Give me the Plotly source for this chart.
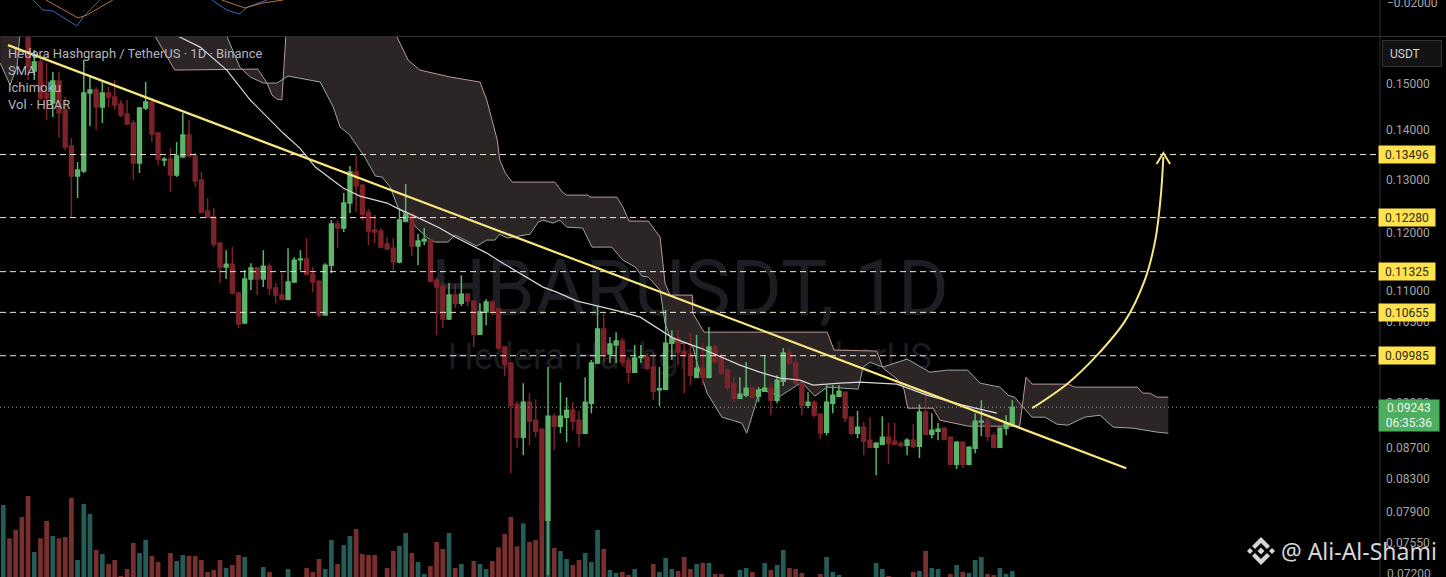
import math
import plotly.graph_objects as go

opens = [.1700,.1750,.1725,.1700,.16508,.15294,.15502,.14799,.14579,.15068,
 .14427,.13669,.13068,.13166,.14799,.14866,.14492,.14799,.14711,.14557,
 .1434,.14148,.13326,.1447,.14601,.13938,.13386,.13406,.13087,.13446,
 .13896,.13466,.1299,.124,.12289,.1182,.11402,.11453,.10967,.10485,
 .11199,.11385,.11199,.11419,.11049,.10934,.10868,.11149,.1153,.1154,
 .11283,.11165,.10611,.11436,.12161,.12089,.1255,.13147,.12892,.12381,
 .12053,.12035,.11802,.11731,.11488,.12215,.12344,.11767,.11855,.11873,
 .11182,.11082,.10548,.10934,.10803,.1095,.10836,.10313,.10659,.1082,
 .10707,.10115,.09875,.09286,.08838,.09314,.09066,.08945,.07805,.09121,
 .08985,.09107,.09203,.09066,.08891,.093,.09875,.10391,.10009,.10145,
 .10206,.09905,.09742,.0996,.09964,.09816,.0949,.09497,.10175,.10252,
 .1004,.10009,.09669,.09801,.09669,.10115,.09964,.09772,.09569,.0937,
 .09412,.09511,.09398,.09469,.09511,.09342,.09612,.10024,.09875,.09583,
 .09272,.09314,.09148,.08905,.093,.09398,.09454,.09107,.08891,.08972,
 .08798,.08707,.08746,.08838,.08785,.08759,.08733,.08798,.0872,.09176,
 .08878,.08918,.08958,.08838,.08488,.08772,.08488,.08694,.0904,.09053,
 .08865,.08707,.08958,.09012]
highs = [.177,.177,.1735,.172,.1662,.15783,.15665,.15478,.15271,.15271,
 .14711,.13834,.13346,.15548,.15203,.14933,.15045,.14933,.1509,.14645,
 .14645,.14212,.14492,.15045,.14689,.13959,.13446,.13628,.13751,.14362,
 .14212,.13526,.13147,.12644,.12456,.11838,.11696,.11749,.10983,.11351,
 .1147,.11402,.11696,.1147,.11132,.113,.11731,.11574,.11696,.11909,
 .11402,.11182,.1147,.12234,.12234,.12739,.13265,.13466,.12912,.12437,
 .12326,.12089,.11927,.11909,.12456,.12912,.12381,.1198,.12089,.11873,
 .11232,.11132,.11132,.11115,.11266,.10967,.10852,.10803,.10868,.10852,
 .10723,.1013,.09875,.09328,.09583,.0944,.09356,.08958,.09816,.09162,
 .09597,.09384,.09314,.0919,.09669,.0992,.10755,.10643,.10267,.10344,
 .10252,.0995,.10145,.10145,.10024,.10024,.09816,.10691,.10375,.10375,
 .10175,.10329,.10298,.10175,.10422,.10145,.10024,.09801,.09669,.09669,
 .0989,.09526,.09526,.09994,.09583,.09698,.101,.101,.0995,.09583,
 .09454,.09342,.09162,.09555,.09555,.09555,.09469,.09121,.0919,.0904,
 .09107,.08772,.09121,.09026,.09026,.08785,.08825,.09012,.09286,.0944,
 .09162,.09026,.08972,.08838,.08785,.08785,.0872,.09162,.09342,.09094,
 .08905,.08972,.09134,.09342]
lows = [.168,.1715,.168,.165,.1509,.1509,.14645,.14212,.14276,.13834,
 .13588,.12289,.12644,.13127,.14085,.14001,.14148,.14492,.14427,.14276,
 .14106,.1299,.13127,.14427,.13751,.13285,.13265,.12758,.13049,.13426,
 .13446,.12854,.12363,.1227,.11749,.11132,.11199,.1095,.10407,.10469,
 .11016,.10934,.11066,.10934,.10803,.10852,.10852,.11132,.11351,.11266,
 .10983,.10579,.10611,.113,.11731,.12016,.12363,.12381,.12234,.11784,
 .1182,.11731,.11696,.11351,.1147,.12197,.11592,.11436,.11784,.11149,
 .10298,.10407,.10532,.10723,.10755,.10755,.10115,.10298,.10453,.10611,
 .1007,.09684,.08375,.08694,.08603,.08733,.08838,.07632,.07189,.08668,
 .08891,.08772,.08931,.08707,.08891,.09162,.0986,.09875,.09875,.09875,
 .09845,.09583,.09728,.09875,.09772,.09342,.09258,.09483,.0992,.09845,
 .0944,.09555,.09655,.09555,.09655,.09875,.09698,.09483,.09314,.0937,
 .09384,.0937,.09314,.09455,.09134,.093,.09541,.09845,.09541,.09134,
 .0923,.09107,.08812,.08865,.09162,.09384,.0904,.08865,.08825,.08603,
 .08694,.08349,.08733,.08488,.08733,.08707,.08603,.08694,.08565,.08865,
 .08825,.08798,.08798,.08488,.08425,.08438,.08475,.08629,.08851,.08785,
 .08694,.08694,.08865,.08985]
closes = [.1750,.1725,.1700,.1665,.15386,.15502,.14689,.14689,.15068,.14362,
 .13649,.13068,.13186,.14799,.14866,.14492,.14799,.14711,.14535,.14319,
 .14127,.13326,.1447,.14601,.13917,.13406,.134,.13087,.13466,.13896,
 .13466,.12971,.12381,.12289,.11802,.11402,.11453,.10967,.10469,.11199,
 .11385,.11199,.11419,.11049,.10934,.10868,.11149,.11522,.1154,.11283,
 .11149,.10611,.11436,.12161,.12089,.1255,.13147,.12873,.12344,.12035,
 .12016,.11749,.11714,.11488,.12234,.12344,.11767,.11855,.1189,.11165,
 .11066,.10548,.10934,.10803,.1095,.10836,.10313,.10659,.1082,.10675,
 .101,.0986,.09272,.08838,.09314,.09053,.08918,.07805,.09121,.08985,
 .09121,.09203,.09053,.08891,.09314,.09875,.10391,.10009,.1016,.10206,
 .0989,.09742,.0995,.09975,.09801,.09469,.09504,.10175,.10252,.1004,
 .10009,.09698,.09801,.09669,.10115,.0989,.09728,.09526,.0937,.09426,
 .09511,.09384,.09483,.09511,.09342,.09626,.10024,.09875,.09583,.09272,
 .09314,.09134,.08891,.09314,.09412,.09469,.09094,.08891,.08972,.08785,
 .08707,.08759,.08838,.08759,.08746,.08733,.08798,.0872,.09176,.08878,
 .08931,.08945,.08812,.08488,.08772,.08488,.08707,.09053,.09053,.08851,
 .08707,.08958,.09026,.09243]
volumes = [216,116,141,180,243,75,116,168,123,116,
 120,237,51,219,189,81,69,39,51,3,
 24,102,72,111,63,45,0,72,48,66,
 63,63,51,15,21,51,27,36,66,60,
 0,0,30,15,0,0,24,0,0,27,
 15,54,24,111,39,96,123,144,69,66,
 66,0,27,78,93,132,72,45,9,33,
 105,84,132,27,39,0,48,39,24,48,
 89,129,180,92,161,105,111,216,169,87,
 78,54,36,51,72,45,141,84,21,12,
 15,6,24,0,0,39,15,57,24,18,
 60,24,39,42,42,9,9,0,0,21,
 27,15,0,42,21,36,81,27,24,12,
 0,0,9,60,15,6,0,0,0,0,
 0,42,24,3,0,0,0,15,18,78,
 27,24,0,9,36,15,12,51,60,9,
 6,27,9,18]

span_a_x = [-0.5,1.1,2.2,2.7,3.5,35,36.1,38.2,39.9,42,44.2,46,50,51.2,53.3,54.4,56,56.5,58.4,60.1,
 61.2,62.5,63.8,65.2,66.8,68.6,69.7,71.8,73,74.6,76.5,78.1,79.4,80.2,81.4,85.1,86.4,87.2,88.8,89.9,
 91,93.6,95.1,98.3,100.1,102.1,103.2,104.2,106.1,106.9,107.7,108.8,110.4,111.4,112.1,113.7,116.1,119.3,120.1,121.4,
 122.2,125.5,129,131.1,133.1,138.1,138.9,140,142.1,146,149.7,152.5,155.8,157.8,161,162.3,163.4,164.7,166.2,168.3,
 170.2,172,174.7,177.2,179.3,182.5,186.4,188.2]
span_a = [.15478,.14978,.15386,.16116,.17529,.17529,.16116,.15386,.15158,.15022,.15022,.15181,.15068,.15045,.14492,.14064,.13896,.13793,.13446,.13068,
 .13049,.12854,.12456,.12326,.12089,.11909,.11838,.11838,.11962,.11873,.11767,.11873,.11873,.1198,.11909,.1198,.12198,.12234,.12179,.12234,
 .12107,.12089,.11749,.11749,.11522,.11402,.1125,.11233,.11016,.10485,.10267,.10175,.10175,.10115,.09875,.0944,.09107,.09026,.08891,.09245,
 .09497,.09398,.09597,.09398,.09526,.09497,.09816,.0989,.09816,.09935,.09742,.09772,.09772,.09583,.09526,.09412,.09384,.09245,.09107,.09107,
 .09012,.08998,.09107,.09134,.08972,.08958,.08905,.08891]
span_b_x = [-0.5,23.7,24.5,27.3,27.7,41.1,42.6,43.4,44.2,45,45.7,46.6,62.5,63.6,65.4,67.3,72.2,77,78.1,79.8,
 80.2,81.1,82.2,89.1,90.3,91,94.5,94.8,99.1,100.1,101.1,104.2,106.1,106.9,107.7,111.3,111.4,113.2,133.1,134.2,
 141.1,142.1,144.4,145.5,146.1,150.2,151.3,155.9,164.2,165.2,166.2,172,173.1,183.2,184.1,185.2,186.4,188.2]
span_b = [.18611,.18611,.16116,.15386,.15317,.1534,.15022,.14755,.14667,.14645,.16116,.18611,.18611,.16092,.15548,.15317,.15158,.15045,.14645,.13793,
 .13386,.13127,.12951,.12951,.12758,.12701,.12701,.12663,.12663,.12475,.12216,.12216,.11927,.11132,.10934,.10934,.10643,.10344,.10344,.1007,
 .10055,.09801,.09641,.09497,.0923,.0923,.09066,.08985,.08985,.09669,.09569,.09569,.09526,.09526,.0944,.0944,.09384,.09384]
sma_x = [26.9,28.2,31.8,36.1,39.9,45.2,47.9,50.4,54.9,57.6,62,63.6,66.8,70.5,73,75.9,78.1,80.7,83.5,87.2,
 89.4,92.7,96.1,100.1,102.9,105.6,108.2,112.6,116.1,119,122.2,125.5,128.7,130.8,135.2,138.4,144.4,149.2,155,160.5]
sma = [.16508,.16116,.15853,.15317,.14645,.13938,.13628,.13245,.12835,.12682,.1255,.12456,.12289,.12089,.11927,.11767,.11644,.1147,.113,.11066,
 .10983,.10836,.10755,.10659,.10579,.10407,.10252,.101,.09964,.09845,.09742,.09655,.09626,.09555,.09583,.09597,.09569,.09412,.09272,.09162]

trend_x = [0.76, 181.4]
trend = [.159, .08437]
arrow_x = [166.2,172,176.7,181.2,184.4,186.1,187,187.4]
arrow = [.0923,.09583,.09994,.10516,.11182,.11873,.12701,.13446]
arrow_head_x = [186.3,187.4,188.5]
arrow_head = [.13305,.13526,.13305]

level_prices = [.13496,.1228,.11325,.10655,.09985]
last_price = .09243
price_ticks = [.15,.14,.13,.12,.11,.105,.1,.093,.087,.083,.079,.0755]
edge_price_tick = .072
osc_tick = -.02

osc_blue_a_x = [4.8,6.4,8,9.6,11.9,12.9,15.6]
osc_blue_a = [-.0194,-.0214,-.0216,-.0228,-.0246,-.0228,-.0194]
osc_orange_a_x = [6.9,9.6,12.1,13.5,17.7]
osc_orange_a = [-.0194,-.0212,-.023,-.0224,-.0194]
osc_blue_b_x = [33.7,36.1,38.1,39.5,42.6]
osc_blue_b = [-.0194,-.0214,-.0222,-.0208,-.0194]
osc_orange_b_x = [35.3,39,41.9,45.2]
osc_orange_b = [-.0194,-.021,-.02,-.0194]

XR = [-0.533, 222.4]
YR = [-1.14461, -0.79331]
idx = list(range(len(closes)))
GREEN, RED = "#5bb56a", "#7d2229"
V_G, V_R = "#245c57", "#7a2f2f"
YEL = "#f8e67e"
TICK_FONT = dict(family="Roboto", size=12, color="#a6a6a6")

fig = go.Figure()
fig.add_trace(go.Scatter(x=[110.9], y=[.10934], mode="text", text=["HBARUSDT, 1D"],
    textfont=dict(family="Roboto", size=78, color="#1c1e23"), yaxis="y", showlegend=False))
fig.add_trace(go.Scatter(x=[110.9], y=[.0992], mode="text", text=["Hedera Hashgraph / TetherUS"],
    textfont=dict(family="Roboto", size=36.5, color="#1a1c20"), yaxis="y", showlegend=False))
fig.add_trace(go.Scatter(x=span_a_x, y=span_a, mode="lines", line=dict(color="#98a89f", width=1), yaxis="y", showlegend=False))
fig.add_trace(go.Scatter(x=span_b_x, y=span_b, mode="lines", line=dict(color="#bc9797", width=1), fill="tonexty",
    fillcolor="#2c2526", yaxis="y", showlegend=False))
fig.add_trace(go.Bar(x=idx, y=volumes, width=0.76, marker=dict(color=[V_G if c >= o else V_R for o, c in zip(opens, closes)], line=dict(width=0)),
    yaxis="y2", showlegend=False))
fig.add_trace(go.Candlestick(x=idx, open=opens, high=highs, low=lows, close=closes, yaxis="y3", showlegend=False,
    increasing=dict(line=dict(color=GREEN, width=1.5), fillcolor=GREEN),
    decreasing=dict(line=dict(color=RED, width=1.5), fillcolor=RED), whiskerwidth=0))
fig.add_trace(go.Scatter(x=sma_x, y=sma, mode="lines", line=dict(color="#d6d6d6", width=1.2), yaxis="y4", showlegend=False))
for p in level_prices:
    fig.add_trace(go.Scatter(x=XR, y=[p, p], mode="lines", line=dict(color="#ece8d6", width=1, dash="6px,4px"), yaxis="y4", showlegend=False))
fig.add_trace(go.Scatter(x=XR, y=[last_price, last_price], mode="lines", line=dict(color="#9a9a9a", width=1, dash="1px,3px"), yaxis="y4", showlegend=False))
fig.add_trace(go.Scatter(x=trend_x, y=trend, mode="lines", line=dict(color=YEL, width=2.2), yaxis="y4", showlegend=False))
fig.add_trace(go.Scatter(x=arrow_x, y=arrow, mode="lines", line=dict(color=YEL, width=2, shape="spline"), yaxis="y4", showlegend=False))
fig.add_trace(go.Scatter(x=arrow_head_x, y=arrow_head, mode="lines", line=dict(color=YEL, width=2), yaxis="y4", showlegend=False))
for xs, ys, col in [(osc_blue_a_x, osc_blue_a, "#3f67b5"), (osc_orange_a_x, osc_orange_a, "#b9713f"),
                    (osc_blue_b_x, osc_blue_b, "#3f67b5"), (osc_orange_b_x, osc_orange_b, "#b9713f")]:
    fig.add_trace(go.Scatter(x=xs, y=ys, mode="lines", line=dict(color=col, width=1), yaxis="y5", showlegend=False))

anns = []
for i, t in enumerate(["Hedera Hashgraph / TetherUS · 1D · Binance", "SMA", "Ichimoku", "Vol · HBAR"]):
    anns.append(dict(text=t, xref="paper", yref="paper", x=6/1380, y=1-(53+17.3*i)/577, xanchor="left", yanchor="middle",
                     showarrow=False, font=dict(family="Roboto", size=13, color="#b4b6bb")))
for p in level_prices:
    anns.append(dict(text=f"{p:.5f}", xref="paper", yref="y", x=1, y=math.log10(p), xanchor="left", yanchor="middle", xshift=-2,
                     showarrow=False, bgcolor="#ffe24d", width=54, height=15, align="center",
                     font=dict(family="Roboto", size=12, color="#2a2a1a")))
anns.append(dict(text=f"{last_price:.5f}<br>06:35:36", xref="paper", yref="y", x=1, y=math.log10(last_price), yshift=-8, xshift=-2,
                 xanchor="left", yanchor="middle", showarrow=False, bgcolor="#4caf5f", width=58, height=29, align="center",
                 font=dict(family="Roboto", size=12, color="#f2f2f2")))
anns.append(dict(text=" ", xref="paper", yref="paper", x=1411.5/1380, y=1-54/577, xanchor="center", yanchor="middle", showarrow=False,
                 bgcolor="#131313", bordercolor="#333333", borderwidth=1, width=56, height=23,
                 font=dict(family="Roboto", size=12, color="#d0d0d0")))
anns.append(dict(text="USDT", xref="paper", yref="paper", x=1405/1380, y=1-54/577, xanchor="center", yanchor="middle", showarrow=False,
                 font=dict(family="Roboto", size=12, color="#d0d0d0")))
anns.append(dict(text=f"{edge_price_tick:.5f}", xref="paper", yref="y", x=1385/1380, y=math.log10(edge_price_tick), xanchor="left", yanchor="middle",
                 showarrow=False, font=TICK_FONT))
anns.append(dict(text="\u2212" + f"{abs(osc_tick):.5f}", xref="paper", yref="y5", x=1380/1380, xshift=5, y=osc_tick, xanchor="left", yanchor="middle",
                 showarrow=False, font=TICK_FONT))
anns.append(dict(text="@ Ali-Al-Shami", xref="paper", yref="paper", x=1279/1380, y=1-551/577, xanchor="left", yanchor="middle",
                 showarrow=False, font=dict(family="Noto Sans", size=23, color="#d6d6d6")))

def px(x, y):
    return f"{x/1380:.5f},{1-y/577:.5f}"
def poly(pts):
    return "M" + " L".join(px(*p) for p in pts) + " Z"
def diamond(cx, cy, r):
    return poly([(cx, cy-r), (cx+r, cy), (cx, cy+r), (cx-r, cy)])
LOGO = [diamond(1250, 551, 3), diamond(1272, 551, 3), diamond(1261, 551, 3.5),
        poly([(1261,537),(1270,546),(1267,549),(1261,543),(1255,549),(1252,546)]),
        poly([(1261,565),(1270,556),(1267,553),(1261,559),(1255,553),(1252,556)])]
shapes = [dict(type="path", path=p, xref="paper", yref="paper", fillcolor="#d6d6d6", line=dict(width=0), layer="above") for p in LOGO]
shapes.append(dict(type="line", xref="paper", yref="paper", x0=0, x1=1446/1380, y0=1-36.5/577, y1=1-36.5/577, line=dict(color="#2e2e2e", width=1)))
shapes.append(dict(type="line", xref="paper", yref="paper", x0=1, x1=1, y0=0, y1=1, line=dict(color="#2e2e2e", width=1)))

hidden = dict(visible=False, fixedrange=True)
fig.update_layout(
    width=1446, height=577, margin=dict(l=0, r=66, t=0, b=0), autosize=False,
    paper_bgcolor="#000000", plot_bgcolor="#000000", showlegend=False, barmode="overlay", boxgap=0.12,
    xaxis=dict(range=XR, visible=False, rangeslider=dict(visible=False)),
    yaxis=dict(type="log", range=YR, domain=[0, 540/577], side="right", tickmode="array",
               tickvals=price_ticks, ticktext=[f"{t:.5f}" for t in price_ticks], showgrid=False, zeroline=False,
               tickfont=TICK_FONT, ticklen=7, tickcolor="#000000", showline=False, ticklabelstandoff=5),
    yaxis2=dict(range=[0, 1620], overlaying="y", **hidden),
    yaxis3=dict(type="log", range=YR, overlaying="y", **hidden),
    yaxis4=dict(type="log", range=YR, overlaying="y", **hidden),
    yaxis5=dict(range=[-.0266, -.0194], domain=[541/577, 1], side="right", showticklabels=False, ticks="",
                showgrid=False, zeroline=False),
    annotations=anns, shapes=shapes,
)
fig.write_html("out.html", config=dict(displayModeBar=False),
               post_script="document.documentElement.style.background='#000';document.body.style.margin='0';document.body.style.overflow='hidden';")
